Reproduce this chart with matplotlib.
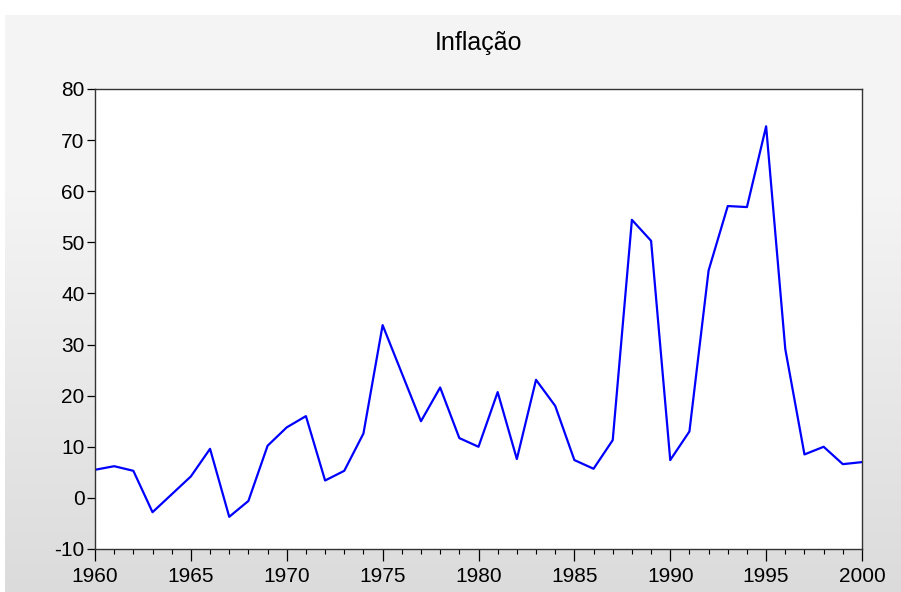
import matplotlib.pyplot as plt
import numpy as np
from matplotlib.ticker import MultipleLocator

# dados
anos = list(range(1960, 2001))
inflacao = [5.5, 6.2, 5.3, -2.8, 0.7, 4.2, 9.6, -3.7, -0.6, 10.2,
            13.8, 16.0, 3.4, 5.3, 12.6, 33.8, 24.4, 15.0, 21.6, 11.7,
            10.0, 20.7, 7.6, 23.1, 18.0, 7.4, 5.7, 11.3, 54.4, 50.3,
            7.4, 13.0, 44.5, 57.1, 56.9, 72.7, 29.1, 8.5, 10.0, 6.6, 7.0]
titulo = "Inflação"

plt.rcParams['font.family'] = ['Liberation Sans', 'DejaVu Sans']
plt.rcParams['axes.unicode_minus'] = False

W, H = 901, 592
fig = plt.figure(figsize=(W / 100, H / 100), dpi=100)

# fundo cinza em degradê (estilo EViews)
bg = fig.add_axes([5 / W, 0, 1 - 5 / W, 1 - 15 / H], zorder=-10)
grad = np.concatenate([np.full(80, 0.957), np.linspace(0.957, 0.86, 176)])
grad = grad.reshape(-1, 1)
bg.imshow(np.dstack([grad, grad, grad]), aspect='auto', extent=[0, 1, 0, 1])
bg.set_axis_off()

ax = fig.add_axes([95 / W, 1 - 549 / H, (862 - 95) / W, (549 - 89) / H])
ax.plot(anos, inflacao, color='#0000ff', linewidth=1.6)

ax.set_xlim(1960, 2000)
ax.set_ylim(-10, 80)
ax.xaxis.set_major_locator(MultipleLocator(5))
ax.xaxis.set_minor_locator(MultipleLocator(1))
ax.yaxis.set_major_locator(MultipleLocator(10))
ax.tick_params(axis='both', which='major', direction='out', width=0.9,
               labelsize=15, colors='black')
ax.tick_params(axis='x', which='major', length=8.5, pad=4.5)
ax.tick_params(axis='x', which='minor', direction='out', length=3.8, width=0.8)
ax.tick_params(axis='y', which='major', length=6, pad=1.5)
for s in ax.spines.values():
    s.set_color('#333333')
    s.set_linewidth(1.0)

fig.text((95 + 862) / 2 / W, 1 - 50 / H, titulo, ha='center', va='baseline',
         fontsize=18)

fig.savefig("out.png", dpi=100)
